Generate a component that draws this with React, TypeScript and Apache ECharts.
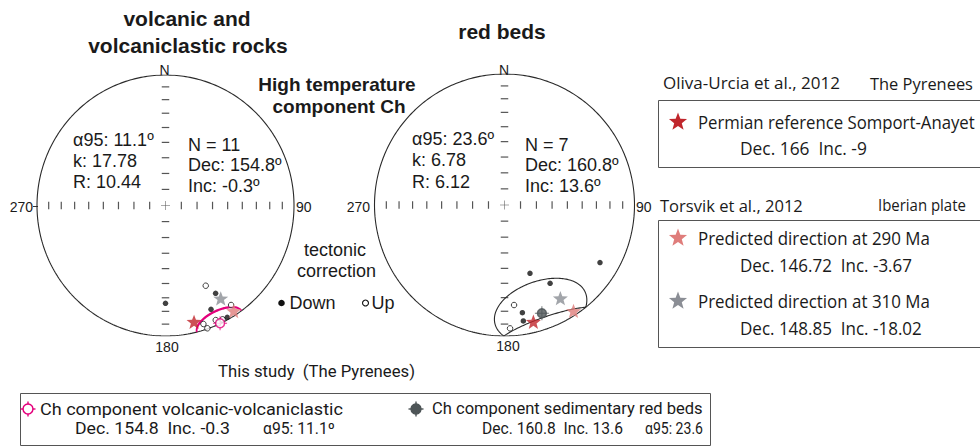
import React, { useEffect, useRef } from "react";
import * as echarts from "echarts";

// ---- Site directions [declination, inclination] (tilt corrected) ----
const volcanicDown: number[][] = [[180.0, 26.0], [149.9, 23.3], [156.0, 14.0], [150.7, 2.0]];
const volcanicUp: number[][] = [[153.0, -31.6], [146.2, -9.1], [156.0, -4.4], [153.0, -2.4], [162.0, -5.1], [160.9, -0.5], [155.5, -1.0]];
const redBedsDown: number[][] = [[120.9, 15.5], [159.4, 43.6], [149.6, 31.3], [170.5, 17.8], [170.7, 11.3]];
const redBedsUp: number[][] = [[174.5, -24.3], [177.4, -6.4]];

// ---- Fisher means: [dec, inc, a95] and statistics ----
const volcanicMean = [154.8, -0.3, 11.1];
const redBedsMean = [160.8, 13.6, 23.6];
const volcanicStats = { n: 11, k: 17.78, r: 10.44 };
const redBedsStats = { n: 7, k: 6.78, r: 6.12 };

// ---- Reference directions [dec, inc] ----
const permianRef = [166, -9];
const predicted290 = [146.72, -3.67];
const predicted310 = [148.85, -18.02];

// inclination ticks along the N-S / E-W diameters
const netTickIncs = [10, 20, 30, 40, 50, 60, 70, 80];

const RED = "#c0262c";
const PINK_STAR = "#df7d7b";
const GRAY_STAR = "#8b8e95";
const MAGENTA = "#e4007c";
const DARK = "#4e5557";
const INK = "#1a1a1a";
const ARIAL = '"Liberation Sans", Arial, sans-serif';
const SEGOE = '"Open Sans", "Noto Sans", sans-serif';
const UI = 'Roboto, "Open Sans", sans-serif';

const DEG = Math.PI / 180;

// Lower-hemisphere equal-area (Schmidt) projection, unit primitive
function toXY(dec: number, inc: number): number[] {
  const r = Math.SQRT2 * Math.sin(((90 - Math.abs(inc)) / 2) * DEG);
  return [r * Math.sin(dec * DEG), r * Math.cos(dec * DEG)];
}
const project = (dirs: number[][]) => dirs.map((d) => toXY(d[0], d[1]));

// Small circle of radius a95 around a mean direction
function coneXY(dec: number, inc: number, a95: number): number[][] {
  const D = dec * DEG, I = inc * DEG, A = a95 * DEG;
  const m = [Math.cos(I) * Math.cos(D), Math.cos(I) * Math.sin(D), Math.sin(I)];
  const u = [-Math.sin(I) * Math.cos(D), -Math.sin(I) * Math.sin(D), Math.cos(I)];
  const v = [-Math.sin(D), Math.cos(D), 0];
  const out: number[][] = [];
  for (let k = 0; k <= 360; k += 2) {
    const t = k * DEG;
    const p = [0, 1, 2].map((j) => Math.cos(A) * m[j] + Math.sin(A) * (Math.cos(t) * u[j] + Math.sin(t) * v[j]));
    const pInc = Math.asin(Math.max(-1, Math.min(1, p[2]))) / DEG;
    const pDec = Math.atan2(p[1], p[0]) / DEG;
    out.push(toXY(pDec, pInc));
  }
  return out;
}

function starPoints(cx: number, cy: number, R: number, ratio = 0.42): number[][] {
  const pts: number[][] = [];
  for (let i = 0; i < 10; i++) {
    const a = -Math.PI / 2 + (i * Math.PI) / 5;
    const r = i % 2 === 0 ? R : R * ratio;
    pts.push([cx + r * Math.cos(a), cy + r * Math.sin(a)]);
  }
  return pts;
}
const STAR_SYMBOL = "path://M" + starPoints(10, 10, 10).map((p) => p[0].toFixed(2) + "," + p[1].toFixed(2)).join("L") + "Z";
const CROSS_SYMBOL = "path://M9.3,0h1.4v20h-1.4zM0,9.3h20v1.4h-20z";
const PLUS_SYMBOL = "path://M9.4,0h1.2v20h-1.2zM0,9.4h20v1.2h-20z";

// net frames: centre and radii in px
const nets = [
  { cx: 165.5, cy: 205.5, rx: 128.5, ry: 130.5 },
  { cx: 504.5, cy: 205.0, rx: 130.0, ry: 131.0 },
];

function netSeries(idx: number, down: number[][], up: number[][], mean: number[], coneColor: string, coneWidth: number, meanColor: string, meanFill: string): any[] {
  const base = { xAxisIndex: idx, yAxisIndex: idx, silent: true, animation: false };
  const primitive: number[][] = [];
  for (let d = 0; d <= 360; d += 1) primitive.push(toXY(d, 0));
  const ns: number[][] = [];
  const ew: number[][] = [];
  netTickIncs.forEach((i) => {
    ns.push(toXY(0, i), toXY(180, i));
    ew.push(toXY(90, i), toXY(270, i));
  });
  const stars = [
    { value: toXY(predicted290[0], predicted290[1]), itemStyle: { color: PINK_STAR } },
    { value: toXY(predicted310[0], predicted310[1]), itemStyle: { color: GRAY_STAR } },
    { value: toXY(permianRef[0], permianRef[1]), itemStyle: { color: RED } },
  ];
  const m = toXY(mean[0], mean[1]);
  return [
    { ...base, type: "line", data: primitive, showSymbol: false, lineStyle: { color: "#2a2a2a", width: 1.1 }, z: 1 },
    { ...base, type: "scatter", data: ns, symbol: "rect", symbolSize: [7.5, 1.2], itemStyle: { color: "#2a2a2a" }, z: 1 },
    { ...base, type: "scatter", data: ew, symbol: "rect", symbolSize: [1.2, 7.5], itemStyle: { color: "#2a2a2a" }, z: 1 },
    { ...base, type: "scatter", data: [[0, 0]], symbol: PLUS_SYMBOL, symbolSize: 9, itemStyle: { color: "#2a2a2a" }, z: 1 },
    { ...base, type: "line", data: coneXY(mean[0], mean[1], mean[2]), showSymbol: false, lineStyle: { color: coneColor, width: coneWidth }, z: 3 },
    { ...base, type: "scatter", data: project(up), symbolSize: 5.5, itemStyle: { color: "#fff", borderColor: "#111", borderWidth: 1 }, z: 4 },
    { ...base, type: "scatter", data: project(down), symbolSize: 5.5, itemStyle: { color: "#111" }, z: 4 },
    { ...base, type: "scatter", data: stars, symbol: STAR_SYMBOL, symbolKeepAspect: true, symbolSize: 15, z: 5 },
    { ...base, type: "scatter", data: [m], symbol: CROSS_SYMBOL, symbolSize: 14, itemStyle: { color: meanColor }, z: 6 },
    { ...base, type: "scatter", data: [m], symbolSize: 9, itemStyle: { color: meanFill, borderColor: meanColor, borderWidth: 1.5 }, z: 7 },
  ];
}

let measureCtx: CanvasRenderingContext2D | null = null;
function measure(text: string, font: string): number {
  if (!measureCtx) measureCtx = document.createElement("canvas").getContext("2d");
  if (!measureCtx) return 0;
  measureCtx.font = font;
  return measureCtx.measureText(text).width;
}

const txt = (text: string, x: number, y: number, font: string, align = "left", extra: any = {}) => ({
  type: "text",
  x,
  y,
  silent: true,
  ...extra,
  style: { text, x: 0, y: 0, font, fill: INK, textAlign: align, textVerticalAlign: "middle" },
});

// left-aligned text stretched horizontally to span a given width
const fitTxt = (text: string, x: number, y: number, font: string, width: number) => {
  const w = measure(text, font);
  return txt(text, x, y, font, "left", w > 0 ? { scaleX: width / w } : {});
};

const star = (cx: number, cy: number, R: number, color: string) => ({
  type: "polygon",
  silent: true,
  shape: { points: starPoints(cx, cy, R) },
  style: { fill: color },
});

const meanMarker = (cx: number, cy: number, color: string, fill: string) => [
  { type: "line", silent: true, shape: { x1: cx - 7.5, y1: cy, x2: cx + 7.5, y2: cy }, style: { stroke: color, lineWidth: 1.4 } },
  { type: "line", silent: true, shape: { x1: cx, y1: cy - 7.5, x2: cx, y2: cy + 7.5 }, style: { stroke: color, lineWidth: 1.4 } },
  { type: "circle", silent: true, shape: { cx, cy, r: 5 }, style: { fill, stroke: color, lineWidth: 1.5 } },
];

const box = (x: number, y: number, w: number, h: number) => ({
  type: "rect",
  silent: true,
  shape: { x, y, width: w, height: h },
  style: { fill: "none", stroke: "#555", lineWidth: 1 },
});

const f = (v: number) => v.toFixed(1);
const SP = "\u00a0 ";

function buildGraphic(): any[] {
  const g: any[] = [];
  const T21 = `bold 21px ${ARIAL}`;
  const T19 = `bold 19px ${ARIAL}`;
  const L18 = `18px ${ARIAL}`;
  const L14 = `14px ${ARIAL}`;
  const H17 = `17px ${SEGOE}`;
  const S18 = `18px ${SEGOE}`;
  const B16 = `16px ${UI}`;

  // titles
  g.push(txt("volcanic and", 187, 18, T21, "center"));
  g.push(txt("volcaniclastic rocks", 188, 45, T21, "center"));
  g.push(txt("red beds", 502, 31, T21, "center"));
  g.push(txt("High temperature", 337, 84, T19, "center"));
  g.push(txt("component Ch", 339, 106, T19, "center"));

  // net direction labels
  g.push(txt("N", 164.5, 70, L14, "center"));
  g.push(txt("270", 33, 206.5, L14, "right"));
  g.push({ type: "line", silent: true, shape: { x1: 33, y1: 206.5, x2: 38, y2: 206.5 }, style: { stroke: "#333", lineWidth: 1 } });
  g.push(txt("90", 296, 207, L14, "left"));
  g.push(txt("180", 167, 347, L14, "center"));
  g.push(txt("N", 504, 70, L14, "center"));
  g.push(txt("270", 370, 206.5, L14, "right"));
  g.push(txt("90", 636, 207, L14, "left"));
  g.push(txt("180", 508, 346, L14, "center"));

  // statistics
  g.push(txt(`α95: ${f(volcanicMean[2])}º`, 73, 140, L18));
  g.push(txt(`k: ${volcanicStats.k.toFixed(2)}`, 73, 161, L18));
  g.push(txt(`R: ${volcanicStats.r.toFixed(2)}`, 73, 181.5, L18));
  g.push(txt(`N = ${volcanicStats.n}`, 188, 145, L18));
  g.push(txt(`Dec: ${f(volcanicMean[0])}º`, 188, 165, L18));
  g.push(txt(`Inc: ${f(volcanicMean[1])}º`, 188, 185.5, L18));

  g.push(txt(`α95: ${f(redBedsMean[2])}º`, 412, 139, L18));
  g.push(txt(`k: ${redBedsStats.k.toFixed(2)}`, 412, 160, L18));
  g.push(txt(`R: ${redBedsStats.r.toFixed(2)}`, 412, 181.5, L18));
  g.push(txt(`N = ${redBedsStats.n}`, 525, 145, L18));
  g.push(txt(`Dec: ${f(redBedsMean[0])}º`, 525, 165, L18));
  g.push(txt(`Inc: ${f(redBedsMean[1])}º`, 525, 186, L18));

  // tectonic correction + hemisphere key
  g.push(txt("tectonic", 335, 250, L18, "center"));
  g.push(txt("correction", 336.5, 271, L18, "center"));
  g.push({ type: "circle", silent: true, shape: { cx: 281.5, cy: 303, r: 3.3 }, style: { fill: "#111" } });
  g.push(txt("Down", 289.5, 303, L18));
  g.push({ type: "circle", silent: true, shape: { cx: 365.5, cy: 303, r: 3 }, style: { fill: "#fff", stroke: "#111", lineWidth: 1.1 } });
  g.push(txt("Up", 371.5, 303, L18));

  // reference legends (right)
  g.push(fitTxt("Oliva-Urcia et al., 2012", 663, 83, H17, 177));
  g.push(fitTxt("The Pyrenees", 870, 83, H17, 103));
  g.push(box(658.5, 100.5, 330, 67));
  g.push(star(678, 122, 9.5, RED));
  g.push(fitTxt("Permian reference Somport-Anayet", 698, 122, S18, 277));
  g.push(fitTxt(`Dec. ${permianRef[0]}${SP}Inc. ${permianRef[1]}`, 740, 148, S18, 127));

  g.push(fitTxt("Torsvik et al., 2012", 660, 205, H17, 143));
  g.push(fitTxt("Iberian plate", 878, 205, H17, 88));
  g.push(box(658.5, 220.5, 330, 127));
  g.push(star(678, 238, 9.5, PINK_STAR));
  g.push(fitTxt("Predicted direction at 290 Ma", 698, 238, S18, 232));
  g.push(fitTxt(`Dec. ${predicted290[0]}${SP}Inc. ${predicted290[1]}`, 740, 265, S18, 172));
  g.push(star(678, 301, 9.5, GRAY_STAR));
  g.push(fitTxt("Predicted direction at 310 Ma", 698, 301, S18, 232));
  g.push(fitTxt(`Dec. ${predicted310[0]}${SP}Inc. ${predicted310[1]}`, 740, 328, S18, 182));

  // this study legend (bottom)
  g.push(fitTxt(`This study${SP}(The Pyrenees)`, 218, 372, B16, 197));
  g.push(box(20.5, 393.5, 690, 52));
  meanMarker(28, 409, MAGENTA, "#fff").forEach((e) => g.push(e));
  g.push(fitTxt("Ch component volcanic-volcaniclastic", 40, 409, B16, 303));
  g.push(fitTxt(`Dec. ${f(volcanicMean[0])}${SP}Inc. ${f(volcanicMean[1])}`, 75, 428.5, B16, 155));
  g.push(fitTxt(`α95: ${f(volcanicMean[2])}º`, 263, 428.5, B16, 72));
  meanMarker(416, 409, DARK, DARK).forEach((e) => g.push(e));
  g.push(fitTxt("Ch component sedimentary red beds", 432, 409, B16, 271));
  g.push(fitTxt(`Dec. ${f(redBedsMean[0])}${SP}Inc. ${f(redBedsMean[1])}`, 482, 428.5, B16, 141));
  g.push(fitTxt(`α95: ${f(redBedsMean[2])}`, 645, 428.5, B16, 58));
  return g;
}

export default function App() {
  const ref = useRef<HTMLDivElement>(null);
  useEffect(() => {
    if (!ref.current) return;
    const chart = echarts.init(ref.current, undefined, { renderer: "svg" });
    const grids = nets.map((n) => ({ left: n.cx - n.rx, top: n.cy - n.ry, width: 2 * n.rx, height: 2 * n.ry, containLabel: false }));
    const axis = (i: number) => ({ type: "value", gridIndex: i, min: -1, max: 1, show: false });
    chart.setOption({
      animation: false,
      backgroundColor: "#fff",
      grid: grids,
      xAxis: [axis(0), axis(1)],
      yAxis: [axis(0), axis(1)],
      series: [
        ...netSeries(0, volcanicDown, volcanicUp, volcanicMean, MAGENTA, 1.6, MAGENTA, "#fff"),
        ...netSeries(1, redBedsDown, redBedsUp, redBedsMean, "#2a2a2a", 1.1, DARK, DARK),
      ],
      graphic: buildGraphic(),
    });
    return () => chart.dispose();
  }, []);
  return <div ref={ref} style={{ position: "absolute", left: 0, top: 0, width: 980, height: 446 }} />;
}
